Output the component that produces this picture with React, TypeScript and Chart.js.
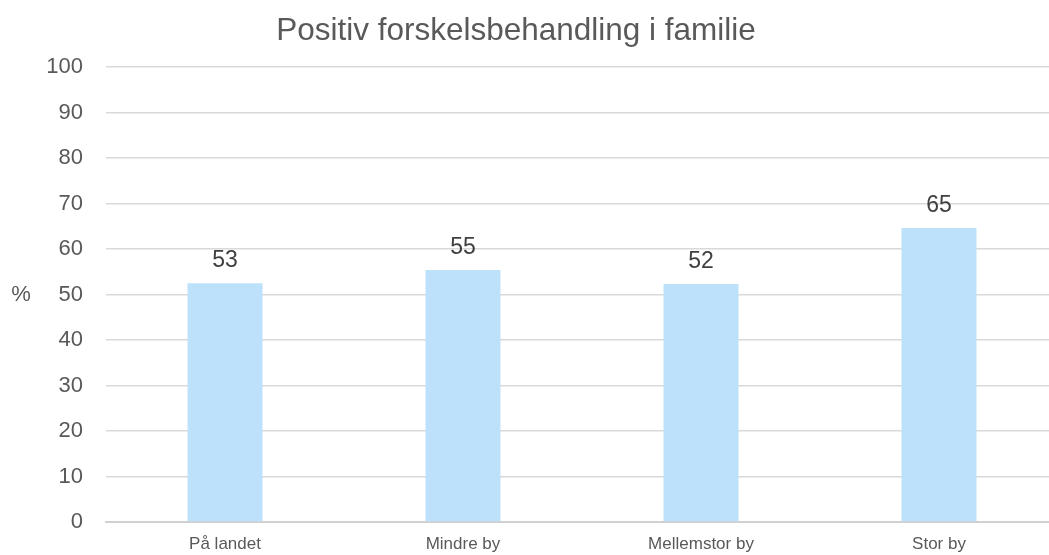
import React, { useEffect, useRef } from "react";
import { Chart, registerables } from "chart.js";

Chart.register(...registerables);

const categories = ["På landet", "Mindre by", "Mellemstor by", "Stor by"];
const values = [52.5, 55.4, 52.3, 64.6];
const yTicks = [0, 10, 20, 30, 40, 50, 60, 70, 80, 90, 100];
const titleText = "Positiv forskelsbehandling i familie";
const yAxisTitle = "%";

const FONT = "'Liberation Sans', Arial, sans-serif";

const labelPlugin = {
  id: "barLabels",
  afterDatasetsDraw(chart: any) {
    const ctx = chart.ctx;
    const meta = chart.getDatasetMeta(0);
    ctx.save();
    ctx.font = `23px ${FONT}`;
    ctx.fillStyle = "#404040";
    ctx.textAlign = "center";
    ctx.textBaseline = "bottom";
    meta.data.forEach((bar: any, i: number) => {
      ctx.fillText(String(Math.round(values[i])), bar.x, bar.y - 11);
    });
    ctx.font = `22px ${FONT}`;
    ctx.fillStyle = "#595959";
    ctx.textBaseline = "middle";
    ctx.fillText(yAxisTitle, 21, (chart.chartArea.top + chart.chartArea.bottom) / 2);
    ctx.font = `31.5px ${FONT}`;
    ctx.fillText(titleText, 516, 31);
    ctx.restore();
  },
};

export default function App() {
  const ref = useRef<HTMLCanvasElement>(null);
  useEffect(() => {
    if (!ref.current) return;
    const chart = new Chart(ref.current, {
      type: "bar",
      data: {
        labels: categories,
        datasets: [
          {
            data: values,
            backgroundColor: "#BDE1FB",
            barPercentage: 0.315,
            categoryPercentage: 1,
          },
        ],
      },
      options: {
        responsive: false,
        animation: false,
        layout: { padding: { top: 67, right: 2, bottom: 0, left: 0 } },
        plugins: {
          legend: { display: false },
          tooltip: { enabled: false },
          title: { display: false },
        },
        scales: {
          x: {
            grid: { display: false, drawTicks: false },
            border: { color: "#d0d0d0", width: 2 },
            ticks: {
              color: "#595959",
              font: { family: FONT, size: 17, lineHeight: 1 },
              padding: 14,
              maxRotation: 0,
              autoSkip: false,
            },
            afterFit: (s: any) => {
              s.height = 33;
            },
          },
          y: {
            min: 0,
            max: 100,
            afterBuildTicks: (s: any) => {
              s.ticks = yTicks.map((v) => ({ value: v }));
            },
            grid: { color: "#d9d9d9", lineWidth: 1.5, drawTicks: false },
            border: { display: false },
            ticks: {
              color: "#595959",
              font: { family: FONT, size: 22 },
              padding: 23,
            },
            afterFit: (s: any) => {
              s.width = 106;
              s.paddingTop = 0;
              s.paddingBottom = 0;
            },
          },
        },
      },
      plugins: [labelPlugin],
    } as any);
    return () => chart.destroy();
  }, []);
  return (
    <div style={{ position: "fixed", left: 0, top: 0, width: 1049, height: 555, overflow: "hidden", background: "#fff" }}>
      <canvas ref={ref} width={1060} height={555} style={{ display: "block" }} />
    </div>
  );
}
